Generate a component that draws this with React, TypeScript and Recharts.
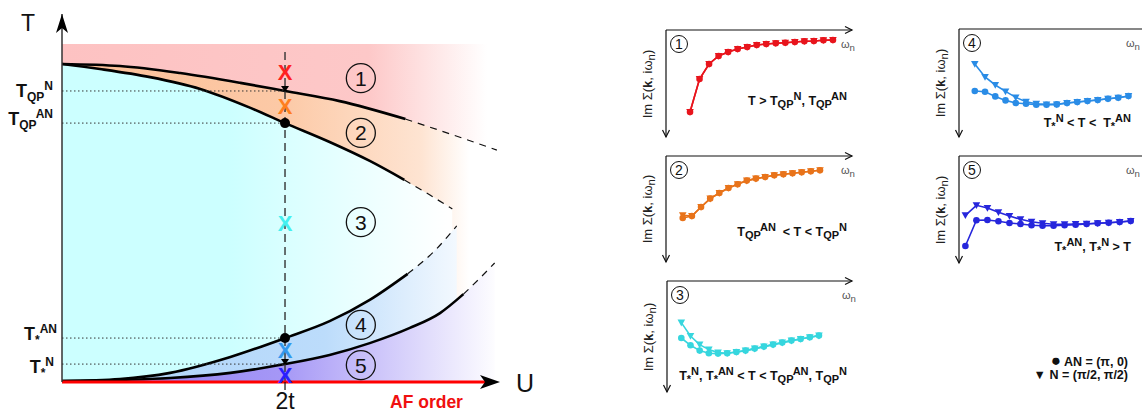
import React from 'react';
import { ComposedChart, LineChart, Line, Area, XAxis, YAxis, ReferenceLine, ReferenceDot } from 'recharts';

const FONT = '"Liberation Sans", Arial, Helvetica, sans-serif';

// phase diagram: U in units of t, T normalised so the shaded box top is T = 1
const tqpNCurve = [
  { U: 0, T: 0.941 }, { U: 0.52, T: 0.935 }, { U: 1.06, T: 0.914 }, { U: 1.6, T: 0.885 },
  { U: 2, T: 0.861 }, { U: 2.49, T: 0.831 }, { U: 3.08, T: 0.778 }, { U: 3.48, T: 0.734 }, { U: 3.9, T: 0.686 },
];
const tqpANCurve = [
  { U: 0, T: 0.941 }, { U: 0.34, T: 0.926 }, { U: 0.79, T: 0.902 }, { U: 1.24, T: 0.867 }, { U: 1.69, T: 0.811 },
  { U: 2, T: 0.766 }, { U: 2.4, T: 0.71 }, { U: 2.76, T: 0.654 }, { U: 3.07, T: 0.598 }, { U: 3.3, T: 0.553 }, { U: 3.5, T: 0.512 },
];
const tsANCurve = [
  { U: 0, T: 0.003 }, { U: 0.52, T: 0.009 }, { U: 0.97, T: 0.027 }, { U: 1.51, T: 0.074 }, { U: 2, T: 0.13 },
  { U: 2.4, T: 0.18 }, { U: 2.76, T: 0.243 }, { U: 3.1, T: 0.32 }, { U: 3.35, T: 0.391 }, { U: 3.54, T: 0.462 },
];
const tsNCurve = [
  { U: 0, T: 0.003 }, { U: 0.97, T: 0.012 }, { U: 1.51, T: 0.027 }, { U: 2, T: 0.053 }, { U: 2.4, T: 0.08 },
  { U: 2.76, T: 0.115 }, { U: 3.12, T: 0.16 }, { U: 3.39, T: 0.204 }, { U: 3.6, T: 0.26 }, { U: 3.75, T: 0.308 }, { U: 3.88, T: 0.352 },
];
// computed part of each line ends here, the rest is an extrapolation (dashed)
const solidUntil = [3.08, 3.07, 3.1, 3.6];
const topEdge = [{ U: 0, T: 1 }, { U: 3.928, T: 1 }];

const U_MAX = 3.928;
const T_MAX = 368 / 338;
const cutU = 2;
const cutTop = 0.976;
const crossT = [0.861, 0.766, 0.13, 0.053]; // TQP^N, TQP^AN, T*^AN, T*^N
const crossSub = ['QP', 'QP', '*', '*'];
const crossSup = ['N', 'AN', 'AN', 'N'];
const markT = [0.917, 0.817, 0.47, 0.095, 0.021];
const regionU = 2.68;
const regionT = [0.899, 0.737, 0.473, 0.169, 0.05];

// Im Sigma(k, i w_n) at the first Matsubara frequencies, one panel per region
const matsubara = [0, 1, 2, 3, 4, 5, 6, 7, 8, 9, 10, 11, 12, 13, 14, 15];
const p1AN = [-8.2, -4.9, -3.4, -2.6, -2.2, -1.9, -1.7, -1.5, -1.4, -1.33, -1.27, -1.2, -1.13, -1.1, -1.03, -1.0];
const p1N = [-8.2, -4.9, -3.4, -2.6, -2.2, -1.9, -1.7, -1.5, -1.4, -1.33, -1.27, -1.2, -1.13, -1.1, -1.03, -1.0];
const p2AN = [-6.2, -6.0, -5.1, -4.26, -3.7, -3.2, -2.83, -2.46, -2.26, -2.1, -1.93, -1.83, -1.73, -1.63, -1.53, -1.43];
const p2N = [-5.93, -6.0, -5.1, -4.26, -3.7, -3.2, -2.83, -2.46, -2.26, -2.1, -1.93, -1.83, -1.73, -1.63, -1.53, -1.43];
const p3AN = [-5.7, -6.43, -6.96, -7.23, -7.26, -7.23, -7.1, -6.96, -6.76, -6.56, -6.36, -6.16, -5.96, -5.8, -5.63, -5.46];
const p3N = [-4.16, -5.5, -6.36, -6.86, -7.16, -7.23, -7.1, -6.96, -6.76, -6.56, -6.36, -6.16, -5.96, -5.8, -5.63, -5.46];
const p4AN = [-6.2, -6.27, -6.74, -7.14, -7.4, -7.47, -7.57, -7.57, -7.54, -7.4, -7.3, -7.2, -7.1, -6.97, -6.87, -6.7];
const p4N = [-3.5, -4.8, -5.6, -6.24, -6.84, -7.27, -7.47, -7.54, -7.54, -7.4, -7.3, -7.2, -7.1, -6.97, -6.87, -6.7];
const p5AN = [-9.0, -6.43, -6.4, -6.53, -6.7, -6.8, -6.93, -6.97, -6.97, -6.93, -6.87, -6.8, -6.73, -6.67, -6.6, -6.5];
const p5N = [-5.93, -4.93, -5.2, -5.63, -6.0, -6.33, -6.57, -6.73, -6.83, -6.83, -6.8, -6.77, -6.73, -6.67, -6.6, -6.5];

const markColors = ['#ff1f1f', '#ff7f1f', '#44f0f0', '#3399ee', '#2a1fff'];

const Sb = ({ c }: { c: string }) => (
  <span style={{ fontSize: '0.88em', position: 'relative', top: '0.3em' }}>{c}</span>
);
const Sp = ({ c }: { c: string }) => (
  <span style={{ fontSize: '0.88em', position: 'relative', top: '-0.45em' }}>{c}</span>
);

const bigArrowRight = (p: any) => (
  <path d={`M${p.cx},${p.cy} L${p.cx - 20},${p.cy - 7} L${p.cx - 15},${p.cy} L${p.cx - 20},${p.cy + 7} Z`} fill="#000" />
);
const bigArrowUp = (p: any) => (
  <path d={`M${p.cx},${p.cy} L${p.cx - 6},${p.cy + 19} L${p.cx},${p.cy + 14} L${p.cx + 6},${p.cy + 19} Z`} fill="#000" />
);
const smallArrowRight = (p: any) => (
  <path d={`M${p.cx - 7},${p.cy - 3.5} L${p.cx},${p.cy} L${p.cx - 7},${p.cy + 3.5}`} fill="none" stroke="#111" strokeWidth={1.2} />
);
const smallArrowDown = (p: any) => (
  <path d={`M${p.cx - 3.5},${p.cy - 7} L${p.cx},${p.cy} L${p.cx + 3.5},${p.cy - 7}`} fill="none" stroke="#111" strokeWidth={1.2} />
);

function YTick(props: any) {
  const { y, payload } = props;
  const i = crossT.indexOf(payload.value);
  const dy = [6, 2, 2, 9][i];
  const end = [53, 53, 57, 54][i];
  return (
    <text x={end} y={y + dy} textAnchor="end" fontFamily={FONT} fontWeight="bold" fontSize={18} fill="#111">
      <tspan>T</tspan>
      <tspan fontSize={12} dy={4}>{crossSub[i]}</tspan>
      <tspan fontSize={12} dy={-11}>{crossSup[i]}</tspan>
    </text>
  );
}

function PhaseDiagram() {
  const fills = ['url(#gPeach)', 'url(#gCyan)', 'url(#gBlue)', 'url(#gPurple)'];
  const curves = [tqpNCurve, tqpANCurve, tsANCurve, tsNCurve];
  return (
    <div style={{ position: 'absolute', left: 0, top: 0 }}>
      <ComposedChart width={540} height={413} margin={{ top: 14, right: 40, bottom: 0, left: 0 }}>
        <defs>
          <linearGradient id="gPink" gradientUnits="userSpaceOnUse" x1="62" y1="0" x2="500" y2="0">
            <stop offset="0" stopColor="#fdc2c2" />
            <stop offset="0.7" stopColor="#fdc8c8" />
            <stop offset="0.97" stopColor="#ffffff" />
          </linearGradient>
          <linearGradient id="gPeach" gradientUnits="userSpaceOnUse" x1="62" y1="0" x2="500" y2="0">
            <stop offset="0" stopColor="#fbbf98" />
            <stop offset="0.5" stopColor="#fcc9a6" />
            <stop offset="0.82" stopColor="#fee4d2" />
            <stop offset="0.93" stopColor="#ffffff" />
          </linearGradient>
          <linearGradient id="gCyan" gradientUnits="userSpaceOnUse" x1="62" y1="0" x2="500" y2="0">
            <stop offset="0" stopColor="#ccffff" />
            <stop offset="0.38" stopColor="#ccffff" />
            <stop offset="0.88" stopColor="#ffffff" />
          </linearGradient>
          <linearGradient id="gBlue" gradientUnits="userSpaceOnUse" x1="62" y1="0" x2="500" y2="0">
            <stop offset="0" stopColor="#aed4fa" />
            <stop offset="0.6" stopColor="#bcdcfb" />
            <stop offset="0.97" stopColor="#ffffff" />
          </linearGradient>
          <linearGradient id="gPurple" gradientUnits="userSpaceOnUse" x1="62" y1="0" x2="500" y2="0">
            <stop offset="0" stopColor="#8c7cf2" />
            <stop offset="0.5" stopColor="#a597f6" />
            <stop offset="1" stopColor="#ffffff" />
          </linearGradient>
        </defs>
        <XAxis
          type="number"
          dataKey="U"
          domain={[0, U_MAX]}
          allowDataOverflow
          height={31}
          ticks={[cutU]}
          tickFormatter={() => '2t'}
          axisLine={false}
          tickLine={{ stroke: '#111', strokeWidth: 1.2 }}
          tickSize={8}
          tickMargin={3}
          tick={{ fontSize: 23, fill: '#111', fontFamily: FONT }}
        />
        <YAxis
          type="number"
          dataKey="T"
          domain={[0, T_MAX]}
          allowDataOverflow
          width={62}
          ticks={crossT}
          tick={<YTick />}
          tickLine={false}
          axisLine={{ stroke: '#333', strokeWidth: 1.5 }}
          interval={0}
        />
        <Area data={topEdge} dataKey="T" type="linear" baseValue={0} fill="url(#gPink)" fillOpacity={1} stroke="none" isAnimationActive={false} />
        {curves.map((c, i) => (
          <Area key={`a${i}`} data={c} dataKey="T" type="monotone" baseValue={0} fill={fills[i]} fillOpacity={1} stroke="none" isAnimationActive={false} />
        ))}
        {curves.map((c, i) => (
          <Line key={`s${i}`} data={c.filter((p) => p.U <= solidUntil[i])} dataKey="T" type="monotone" stroke="#000" strokeWidth={2.6} dot={false} isAnimationActive={false} />
        ))}
        {curves.map((c, i) => (
          <Line key={`d${i}`} data={c.filter((p) => p.U >= solidUntil[i])} dataKey="T" type="monotone" stroke="#111" strokeWidth={1.2} strokeDasharray="7 6" dot={false} isAnimationActive={false} />
        ))}
        {crossT.map((t, i) => (
          <ReferenceLine key={`h${i}`} segment={[{ x: 0, y: t }, { x: cutU, y: t }]} stroke="#333" strokeWidth={1} strokeDasharray="1.5 2.5" />
        ))}
        <ReferenceLine segment={[{ x: cutU, y: cutTop }, { x: cutU, y: 0 }]} stroke="#333" strokeWidth={1.4} strokeDasharray="8 5" />
        <ReferenceLine segment={[{ x: 0, y: 0 }, { x: 3.8, y: 0 }]} stroke="#ff0000" strokeWidth={3.2} />
        <ReferenceDot x={U_MAX} y={0} ifOverflow="visible" shape={bigArrowRight} />
        <ReferenceDot x={0} y={T_MAX} ifOverflow="visible" shape={bigArrowUp} />
        {[crossT[1], crossT[2]].map((t, i) => (
          <ReferenceDot key={`c${i}`} x={cutU} y={t} r={5} fill="#000" stroke="none" />
        ))}
        {[crossT[0], crossT[3]].map((t, i) => (
          <ReferenceDot
            key={`t${i}`}
            x={cutU}
            y={t}
            shape={(p: any) => <path d={`M${p.cx - 4},${p.cy - 5} L${p.cx + 4},${p.cy - 5} L${p.cx},${p.cy + 1} Z`} fill="#000" />}
          />
        ))}
        {markT.map((t, i) => (
          <ReferenceDot
            key={`m${i}`}
            x={cutU}
            y={t}
            shape={(p: any) => (
              <text x={p.cx} y={p.cy} dy="0.36em" textAnchor="middle" fontFamily={FONT} fontWeight="bold" fontSize={22} fill={markColors[i]}>X</text>
            )}
          />
        ))}
        {regionT.map((t, i) => (
          <ReferenceDot
            key={`r${i}`}
            x={regionU}
            y={t}
            shape={(p: any) => (
              <g>
                <circle cx={p.cx} cy={p.cy} r={14.5} fill="none" stroke="#111" strokeWidth={1.3} />
                <text x={p.cx} y={p.cy} dy="0.36em" textAnchor="middle" fontFamily={FONT} fontSize={21} fill="#111">{i + 1}</text>
              </g>
            )}
          />
        ))}
      </ComposedChart>
      <div style={{ position: 'absolute', left: 21, top: 12, fontSize: 23, lineHeight: 1, color: '#111' }}>T</div>
      <div style={{ position: 'absolute', left: 516, top: 371, fontSize: 25, lineHeight: 1, color: '#111' }}>U</div>
      <div style={{ position: 'absolute', left: 390, top: 394, fontSize: 17.5, lineHeight: 1, fontWeight: 'bold', color: '#f01010' }}>AF order</div>
    </div>
  );
}

type PanelProps = {
  ax: number; ay: number; rx: number; by: number;
  xMin: number; xMax: number; yMin: number;
  an: number[]; nn: number[]; color: string; num: number; wx: number;
};

function Panel(p: PanelProps) {
  const rows = matsubara.map((m, i) => ({ m, AN: p.an[i], N: p.nn[i] }));
  const w = p.rx - p.ax + 20;
  const h = p.by - p.ay + 20;
  const tri = (d: any) => (
    <path key={`tri${d.index}`} d={`M${d.cx - 3.8},${d.cy - 3} L${d.cx + 3.8},${d.cy - 3} L${d.cx},${d.cy + 3.8} Z`} fill={p.color} />
  );
  return (
    <>
      <div style={{ position: 'absolute', left: p.ax - 10, top: p.ay - 10 }}>
        <LineChart width={w} height={h} data={rows} margin={{ top: 10, right: 10, bottom: 10, left: 10 }}>
          <XAxis type="number" dataKey="m" domain={[p.xMin, p.xMax]} allowDataOverflow hide />
          <YAxis type="number" domain={[p.yMin, 0]} allowDataOverflow hide />
          <ReferenceLine y={0} stroke="#111" strokeWidth={1.2} ifOverflow="visible" />
          <ReferenceLine x={p.xMin} stroke="#111" strokeWidth={1.2} ifOverflow="visible" />
          <ReferenceDot x={p.xMax} y={0} ifOverflow="visible" shape={smallArrowRight} />
          <ReferenceDot x={p.xMin} y={p.yMin} ifOverflow="visible" shape={smallArrowDown} />
          <Line dataKey="N" type="linear" stroke={p.color} strokeWidth={1.6} dot={tri} isAnimationActive={false} />
          <Line dataKey="AN" type="linear" stroke={p.color} strokeWidth={1.6} dot={{ r: 3.3, fill: p.color, stroke: 'none' }} isAnimationActive={false} />
        </LineChart>
      </div>
      <div style={{ position: 'absolute', left: p.ax + 4, top: p.ay + 5, width: 18, height: 18, border: '1.2px solid #111', borderRadius: '50%', boxSizing: 'border-box', fontSize: 14, lineHeight: '16px', textAlign: 'center', color: '#111' }}>{p.num}</div>
      <div style={{ position: 'absolute', left: p.ax + p.wx, top: p.ay + 9, fontSize: 11, lineHeight: 1, color: '#555' }}>ω<Sb c="n" /></div>
      <div style={{ position: 'absolute', left: p.ax - 18, top: (p.ay + p.by) / 2, width: 0, height: 0 }}>
        <div style={{ position: 'absolute', left: 0, top: 0, transform: 'translate(-50%, -50%) rotate(-90deg)', whiteSpace: 'nowrap', fontSize: 13, lineHeight: 1, color: '#222' }}>
          Im Σ(<b>k</b>, iω<Sb c="n" />)
        </div>
      </div>
    </>
  );
}

const condStyle = (right: number, top: number): React.CSSProperties => ({
  position: 'absolute', right: 1142 - right, top, fontSize: 12.5, lineHeight: 1, fontWeight: 'bold', color: '#111', whiteSpace: 'nowrap',
});

export default function App() {
  return (
    <div style={{ position: 'absolute', left: 0, top: 0, width: 1142, height: 413, overflow: 'hidden', background: '#fff', fontFamily: FONT }}>
      <PhaseDiagram />
      <Panel ax={666} ay={30} rx={852} by={137} xMin={-2.52} xMax={17} yMin={-10.7} an={p1AN} nn={p1N} color="#e8141c" num={1} wx={175} />
      <Panel ax={666} ay={156} rx={852} by={262} xMin={-1.83} xMax={18.5} yMin={-10.6} an={p2AN} nn={p2N} color="#e8731a" num={2} wx={175} />
      <Panel ax={667} ay={281} rx={852} by={392} xMin={-1.56} xMax={18.6} yMin={-11.1} an={p3AN} nn={p3N} color="#36d6de" num={3} wx={175} />
      <Panel ax={959} ay={29} rx={1150} by={137} xMin={-1.54} xMax={17.1} yMin={-10.8} an={p4AN} nn={p4N} color="#2a8ce6" num={4} wx={167} />
      <Panel ax={959} ay={156} rx={1150} by={263} xMin={-0.58} xMax={16.75} yMin={-10.7} an={p5AN} nn={p5N} color="#2626dc" num={5} wx={167} />

      <div style={condStyle(847, 95)}>T &gt; T<Sb c="QP" /><Sp c="N" />, T<Sb c="QP" /><Sp c="AN" /></div>
      <div style={condStyle(847, 226)}>T<Sb c="QP" /><Sp c="AN" />&nbsp; &lt; T &lt; T<Sb c="QP" /><Sp c="N" /></div>
      <div style={condStyle(847, 370)}>T<Sb c="*" /><Sp c="N" />, T<Sb c="*" /><Sp c="AN" /> &lt; T &lt; T<Sb c="QP" /><Sp c="AN" />, T<Sb c="QP" /><Sp c="N" /></div>
      <div style={condStyle(1131, 117)}>T<Sb c="*" /><Sp c="N" /> &lt; T &lt;&nbsp; T<Sb c="*" /><Sp c="AN" /></div>
      <div style={condStyle(1131, 241)}>T<Sb c="*" /><Sp c="AN" />, T<Sb c="*" /><Sp c="N" /> &gt; T</div>

      <div style={condStyle(1128, 356)}><span style={{ fontSize: '1.35em', lineHeight: 0 }}>●</span> AN = (π, 0)</div>
      <div style={condStyle(1128, 369)}>▼ N = (π/2, π/2)</div>
    </div>
  );
}
